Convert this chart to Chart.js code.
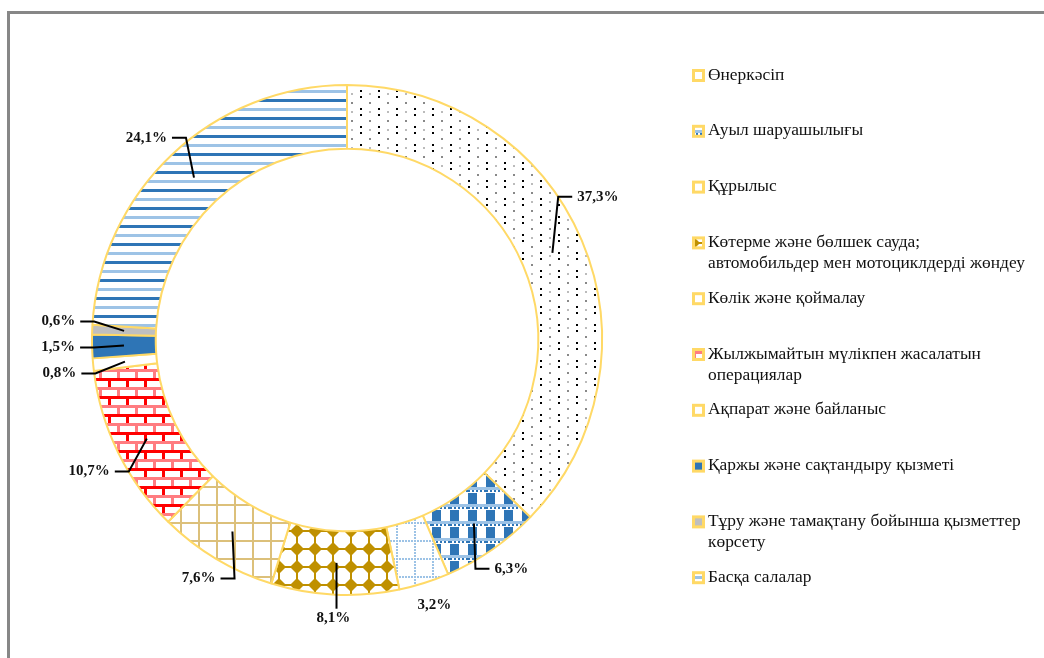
<!DOCTYPE html>
<html>
<head>
<meta charset="utf-8">
<script src="https://cdn.jsdelivr.net/npm/chart.js@4.4.0/dist/chart.umd.min.js"></script>
<style>
  body { margin: 0; background: #fff; }
  #wrap { position: relative; width: 1044px; height: 658px; }
</style>
</head>
<body>
<div id="wrap"><canvas id="myChart" width="1044" height="658"></canvas></div>
<script>
// салалар
var labels = [
	"Өнеркәсіп",
	"Ауыл шаруашылығы",
	"Құрылыс",
	["Көтерме және бөлшек сауда;", "автомобильдер мен мотоциклдерді жөндеу"],
	"Көлік және қоймалау",
	["Жылжымайтын мүлікпен жасалатын", "операциялар"],
	"Ақпарат және байланыс",
	"Қаржы және сақтандыру қызметі",
	["Тұру және тамақтану бойынша қызметтер", "көрсету"],
	"Басқа салалар"
];
var values = [37.3, 6.3, 3.2, 8.1, 7.6, 10.7, 0.8, 1.5, 0.6, 24.1];

var DARK = "#2E75B6", LIGHT = "#9DC3E6", GOLD = "#BF9000", EDGE = "#FFD966";

// small tile -> pattern
function tile(w, h, draw) {
	var c = document.createElement("canvas");
	c.width = w; c.height = h;
	var t = c.getContext("2d");
	t.fillStyle = "#fff";
	t.fillRect(0, 0, w, h);
	draw(t);
	return document.getElementById("myChart").getContext("2d").createPattern(c, "repeat");
}

var fills = [
	tile(18, 18, function(t) { // dots
		t.fillStyle = "#000"; t.fillRect(0, 0, 2, 2); t.fillRect(0, 6, 2, 2);
		t.fillStyle = "#888"; t.fillRect(9, 12, 2, 2);
		t.fillStyle = "#bbb"; t.fillRect(9, 3, 2, 2);
	}),
	tile(18, 17, function(t) { // checker
		t.fillStyle = DARK; t.fillRect(0, 0, 9, 11);
		t.fillStyle = LIGHT; t.fillRect(0, 11, 18, 3);
		t.fillStyle = DARK;
		for (var i = 0; i < 18; i += 4) t.fillRect(i, 14, 2, 2);
	}),
	tile(18, 18, function(t) { // dotted grid
		t.fillStyle = LIGHT;
		for (var i = 0; i < 18; i += 3) { t.fillRect(i, 0, 2, 2); t.fillRect(0, i, 2, 2); }
	}),
	tile(18, 18, function(t) { // diamonds
		t.fillStyle = GOLD;
		t.beginPath(); t.moveTo(9, 2); t.lineTo(16, 9); t.lineTo(9, 16); t.lineTo(2, 9); t.closePath(); t.fill();
		t.fillRect(0, 8, 18, 2); t.fillRect(8, 0, 2, 18);
	}),
	tile(18, 18, function(t) { // grid
		t.fillStyle = "#DCC07A"; t.fillRect(0, 0, 18, 2); t.fillRect(0, 0, 2, 18);
	}),
	tile(18, 18, function(t) { // bricks
		t.fillStyle = "#FF0000"; t.fillRect(0, 0, 18, 3); t.fillRect(0, 0, 3, 9);
		t.fillStyle = "#FF7C80"; t.fillRect(0, 9, 18, 3); t.fillRect(9, 9, 3, 9);
	}),
	"#ffffff",
	DARK,
	"#BFBFBF",
	tile(18, 18, function(t) { // stripes
		t.fillStyle = LIGHT; t.fillRect(0, 0, 18, 3);
		t.fillStyle = DARK; t.fillRect(0, 9, 18, 3);
	})
];

function pct(v) { return v.toFixed(1).replace(".", ",") + "%"; }

// рамка
var framePlugin = {
	id: "frame",
	beforeDraw: function(chart) {
		var c = chart.ctx;
		c.save();
		c.strokeStyle = "#878787"; c.lineWidth = 3;
		c.beginPath(); c.moveTo(8.5, 658); c.lineTo(8.5, 12.5); c.lineTo(1044, 12.5); c.stroke();
		c.restore();
	}
};

// подписи с выносками
var labelPlugin = {
	id: "sliceLabels",
	afterDatasetsDraw: function(chart, args, opts) {
		var c = chart.ctx, meta = chart.getDatasetMeta(0);
		c.save();
		c.font = opts.font;
		var items = [];
		meta.data.forEach(function(arc, i) {
			var p = arc.getProps(["x", "y", "startAngle", "endAngle", "innerRadius", "outerRadius"], true);
			var mid = (p.startAngle + p.endAngle) / 2;
			var a = mid + (opts.nudge[i] || 0) * Math.PI / 180;
			var ux = Math.cos(a), uy = Math.sin(a);
			var txt = pct(values[i]);
			var w = c.measureText(txt).width, h = 12;
			var r = p.outerRadius + opts.gap;
			items.push({
				i: i, txt: txt, w: w, h: h,
				lx: p.x + ux * r + ux * (w / 2 + 2),
				ly: p.y + uy * r + uy * (h / 2 + 2),
				ax: p.x + Math.cos(mid) * (p.innerRadius + p.outerRadius) / 2,
				ay: p.y + Math.sin(mid) * (p.innerRadius + p.outerRadius) / 2,
				side: ux
			});
		});
		// раздвинуть близкие подписи
		[-1, 1].forEach(function(s) {
			var g = items.filter(function(o) { return o.side * s > 0.15; }).sort(function(a, b) { return a.ly - b.ly; });
			for (var k = 0; k < 30; k++) {
				for (var j = 1; j < g.length; j++) {
					var d = g[j].ly - g[j - 1].ly;
					if (d < opts.minGap) { g[j].ly += (opts.minGap - d) / 2; g[j - 1].ly -= (opts.minGap - d) / 2; }
				}
			}
		});
		c.strokeStyle = "#000"; c.lineWidth = 2;
		items.forEach(function(o) {
			if (opts.noLeader.indexOf(o.i) >= 0) return;
			c.beginPath();
			if (Math.abs(o.side) < 0.15) {
				c.moveTo(o.ax, o.ay); c.lineTo(o.ax, o.ly - o.h / 2 - 3);
			} else {
				var s = o.side > 0 ? 1 : -1;
				var edge = o.lx - s * o.w / 2;
				var ex = edge - s * 5, bx = ex - s * 14;
				c.moveTo(o.ax, o.ay); c.lineTo(bx, o.ly); c.lineTo(ex, o.ly);
			}
			c.stroke();
		});
		c.fillStyle = "#111"; c.textAlign = "center"; c.textBaseline = "middle";
		items.forEach(function(o) { c.fillText(o.txt, o.lx, o.ly); });
		c.restore();
	}
};

// легенда справа
var legendPlugin = {
	id: "sideLegend",
	afterDraw: function(chart, args, opts) {
		var c = chart.ctx, ds = chart.data.datasets[0];
		c.save();
		c.font = opts.font;
		c.textBaseline = "middle"; c.textAlign = "left";
		chart.data.labels.forEach(function(lab, i) {
			var y = opts.top + i * opts.slot;
			c.fillStyle = EDGE;
			c.fillRect(opts.x, y - 6, 13, 13);
			c.fillStyle = ds.backgroundColor[i];
			c.fillRect(opts.x + 3, y - 3, 7, 7);
			c.fillStyle = "#111";
			var lines = Array.isArray(lab) ? lab : [lab];
			lines.forEach(function(t, k) { c.fillText(t, opts.x + 16, y + k * opts.lineHeight); });
		});
		c.restore();
	}
};

var ctx = document.getElementById("myChart").getContext("2d");
var myChart = new Chart(ctx, {
	type: "doughnut",
	data: {
		labels: labels,
		datasets: [{
			data: values,
			backgroundColor: fills,
			borderColor: EDGE,
			borderWidth: 2,
			hoverOffset: 0
		}]
	},
	options: {
		responsive: false,
		animation: false,
		cutout: "75%",
		layout: { padding: { left: 91, top: 84, right: 441, bottom: 62 } },
		plugins: {
			legend: { display: false },
			tooltip: { enabled: false },
			sliceLabels: { font: "bold 15px 'Liberation Serif'", gap: 15, minGap: 26, nudge: [-8, 0, 0, 0, 0, -2, 0, 0, 0, 0], noLeader: [2] },
			sideLegend: { x: 692, top: 75, slot: 55.8, lineHeight: 21, font: "17.4px 'Liberation Serif'" }
		}
	},
	plugins: [framePlugin, labelPlugin, legendPlugin]
});
</script>
</body>
</html>
